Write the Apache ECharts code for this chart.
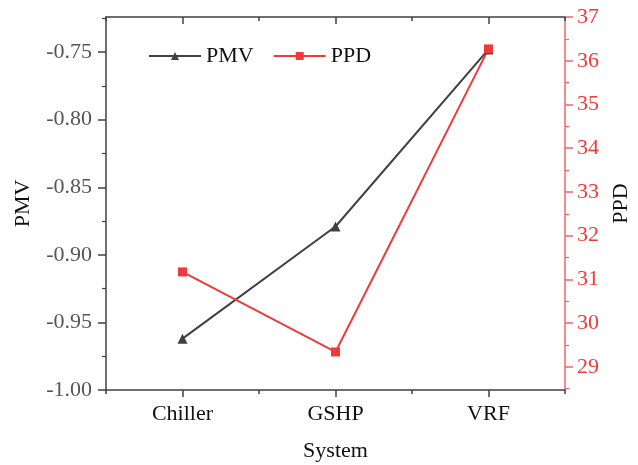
<!DOCTYPE html>
<html>
<head>
<meta charset="utf-8">
<script src="https://cdn.jsdelivr.net/npm/echarts@6/dist/echarts.min.js"></script>
<style>
  html, body { margin: 0; padding: 0; background: #fff; }
  #chart { width: 638px; height: 465px; }
</style>
</head>
<body>
<div id="chart"></div>
<script>
// 数据
const systems = ['Chiller', 'GSHP', 'VRF']
const pmvValues = [-0.962, -0.879, -0.748]
const ppdValues = [31.17, 29.34, 36.27]

// 刻度
const pmvTicks = [-1.00, -0.95, -0.90, -0.85, -0.80, -0.75]
const pmvMinorTicks = [-0.975, -0.925, -0.875, -0.825, -0.775, -0.725]
const ppdTicks = [29, 30, 31, 32, 33, 34, 35, 36, 37]
const ppdMinorTicks = [28.5, 29.5, 30.5, 31.5, 32.5, 33.5, 34.5, 35.5, 36.5]

const pmvRange = [-1.00, -0.724]
const ppdRange = [28.47, 37]

const font = 'Liberation Serif, Times New Roman, serif'
const darkGray = '#404040'
const red = '#f03a3a'
const redAxis = '#f46464'

const chart = echarts.init(document.getElementById('chart'))

function xAxisBase(pos, tickLen, inside, align, showLine) {
  return {
    type: 'category',
    data: systems,
    position: pos,
    boundaryGap: true,
    axisLine: { show: showLine, lineStyle: { color: darkGray, width: 1.5 } },
    axisTick: { show: true, alignWithLabel: align, inside: inside, length: tickLen, lineStyle: { color: darkGray, width: 1.5 } },
    axisLabel: { show: false },
    splitLine: { show: false }
  }
}

function yMinor(pos, range, ticks, color) {
  return {
    type: 'value',
    position: pos,
    min: range[0],
    max: range[1],
    axisLine: { show: false },
    axisTick: { show: true, length: 4, customValues: ticks, lineStyle: { color: color, width: 1.2 } },
    axisLabel: { show: false },
    splitLine: { show: false }
  }
}

const bottomMain = xAxisBase('bottom', 7, false, true, true)
bottomMain.axisLabel = { show: true, margin: 13, color: '#111', fontFamily: font, fontSize: 22 }
bottomMain.name = 'System'
bottomMain.nameLocation = 'middle'
bottomMain.nameGap = 50
bottomMain.nameTextStyle = { color: '#111', fontFamily: font, fontSize: 22 }

const option = {
  animation: false,
  backgroundColor: '#fff',
  grid: { left: 106, right: 73, top: 17, bottom: 75, outerBoundsMode: 'none' },
  legend: {
    data: ['PMV', 'PPD'],
    left: 143,
    top: 40,
    itemWidth: 52,
    itemHeight: 10,
    itemGap: 19,
    textStyle: { color: '#111', fontFamily: font, fontSize: 22 }
  },
  xAxis: [
    bottomMain,
    xAxisBase('bottom', 4, false, false, false),
    xAxisBase('top', 7, true, true, true),
    xAxisBase('top', 4, true, false, false)
  ],
  yAxis: [
    {
      type: 'value',
      position: 'left',
      min: pmvRange[0],
      max: pmvRange[1],
      name: 'PMV',
      nameLocation: 'middle',
      nameGap: 72,
      nameRotate: 90,
      nameTextStyle: { color: '#111', fontFamily: font, fontSize: 22 },
      axisLine: { show: true, lineStyle: { color: darkGray, width: 1.5 } },
      axisTick: { show: true, length: 8, customValues: pmvTicks, lineStyle: { color: darkGray, width: 1.5 } },
      axisLabel: {
        customValues: pmvTicks,
        margin: 14,
        color: '#555',
        fontFamily: font,
        fontSize: 22,
        formatter: v => v.toFixed(2)
      },
      splitLine: { show: false }
    },
    {
      type: 'value',
      position: 'right',
      min: ppdRange[0],
      max: ppdRange[1],
      name: 'PPD',
      nameLocation: 'middle',
      nameGap: 45,
      nameRotate: 90,
      nameTextStyle: { color: '#111', fontFamily: font, fontSize: 22 },
      axisLine: { show: true, lineStyle: { color: redAxis, width: 1.5 } },
      axisTick: { show: true, length: 8, customValues: ppdTicks, lineStyle: { color: redAxis, width: 1.5 } },
      axisLabel: {
        customValues: ppdTicks,
        margin: 12,
        color: red,
        fontFamily: font,
        fontSize: 22
      },
      splitLine: { show: false }
    },
    yMinor('left', pmvRange, pmvMinorTicks, darkGray),
    yMinor('right', ppdRange, ppdMinorTicks, redAxis)
  ],
  series: [
    {
      name: 'PMV',
      type: 'line',
      xAxisIndex: 0,
      yAxisIndex: 0,
      data: pmvValues,
      symbol: 'triangle',
      symbolSize: 10,
      lineStyle: { color: darkGray, width: 2 },
      itemStyle: { color: darkGray }
    },
    {
      name: 'PPD',
      type: 'line',
      xAxisIndex: 0,
      yAxisIndex: 1,
      data: ppdValues,
      symbol: 'rect',
      symbolSize: 9,
      lineStyle: { color: red, width: 2 },
      itemStyle: { color: red }
    }
  ]
}

chart.setOption(option)
</script>
</body>
</html>
